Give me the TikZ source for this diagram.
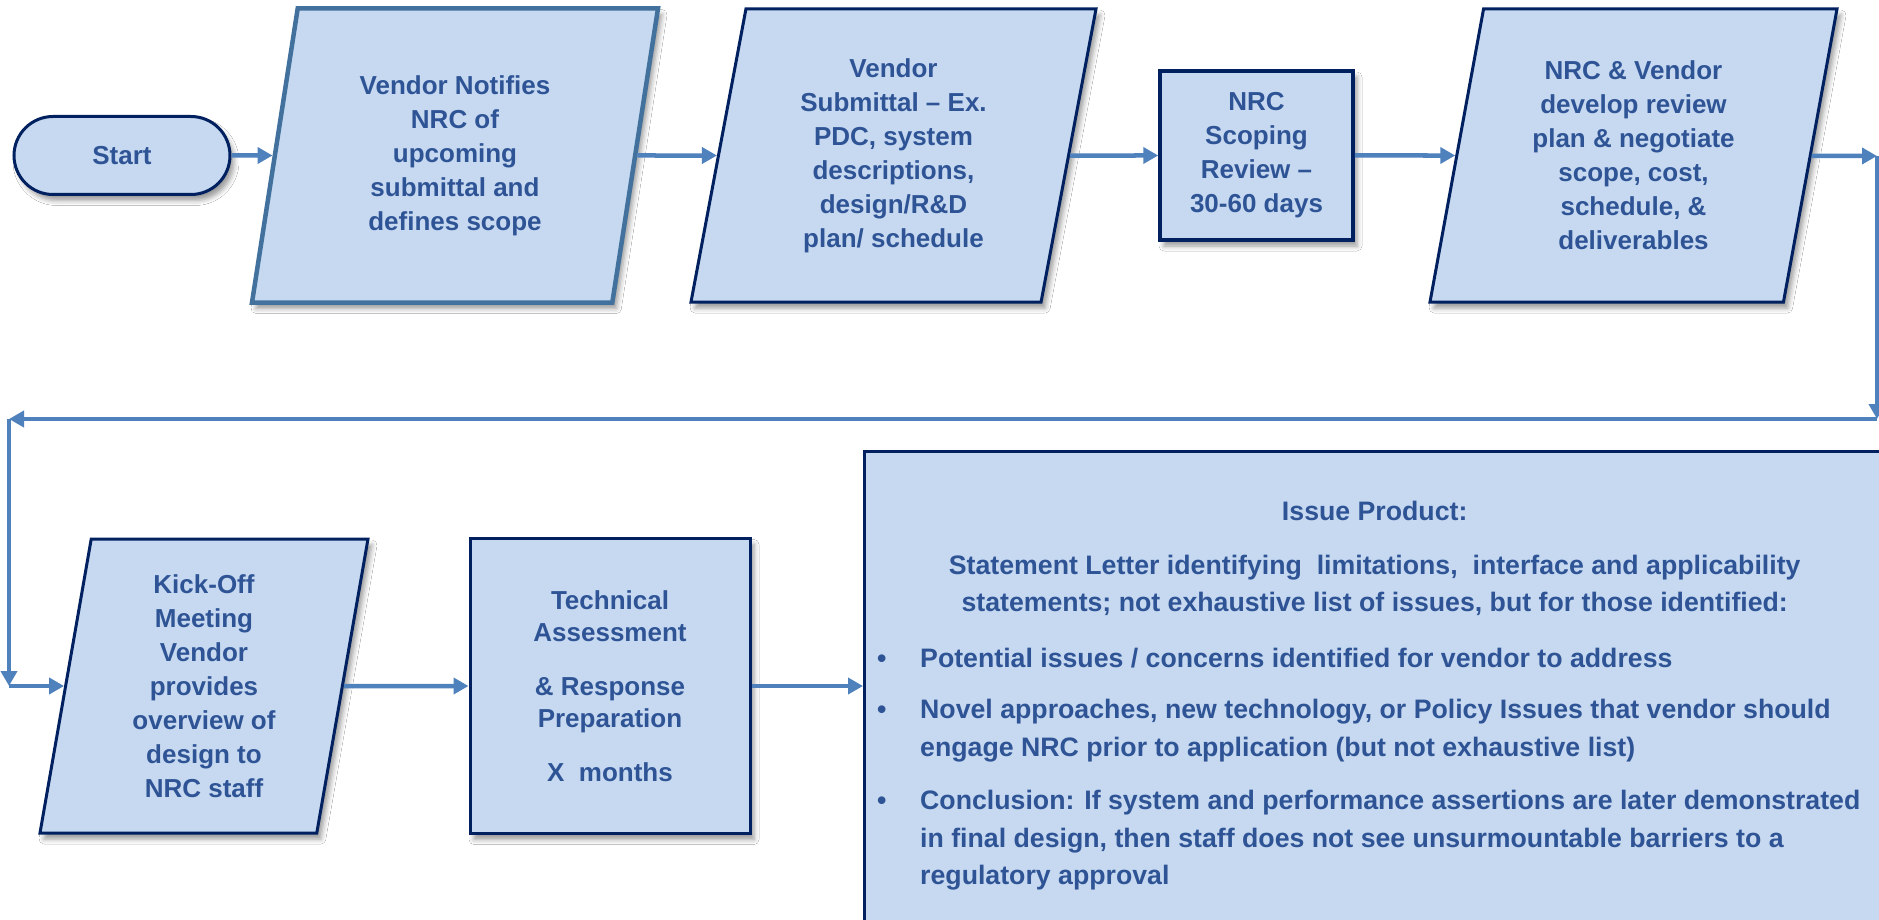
\documentclass[tikz,border=0pt]{standalone}
\usepackage{fontspec}
\setmainfont{Liberation Sans}
\usetikzlibrary{shapes.geometric,shapes.misc,arrows.meta,shadows.blur}
\definecolor{boxfill}{RGB}{198,217,240}
\definecolor{navy}{RGB}{0,32,96}
\definecolor{midblue}{RGB}{65,113,156}
\definecolor{arrowblue}{RGB}{79,129,189}
\definecolor{txt}{RGB}{47,84,150}
\newcommand\bul{\makebox[43pt][l]{\textbullet}}
\begin{document}
\begin{tikzpicture}[x=1pt,y=-1pt,
  softshadow/.style={blur shadow={shadow xshift=4pt,shadow yshift=-6pt,shadow blur radius=5pt,shadow opacity=40}},
  base/.style={fill=boxfill, draw=navy, line width=3pt, text=txt,
    font=\fontsize{26}{34}\selectfont\bfseries, align=center, softshadow, inner sep=4pt},
  para/.style={base, trapezium, trapezium stretches body,
    trapezium left angle=74.8, trapezium right angle=105.2},
  arr/.style={draw=arrowblue, line width=4.5pt, -{Triangle[length=15pt,width=16pt]}}]
\useasboundingbox (0,0) rectangle (1879,920);
\fill[white] (0,0) rectangle (1879,920);

% top row
\node[base, rounded rectangle, minimum width=224, minimum height=78] (start) at (122,155.5) {Start};
\node[para, draw=midblue, line width=4.5pt, minimum width=406, minimum height=294] (p1) at (455,155.5)
  {Vendor Notifies\\NRC of\\upcoming\\submittal and\\defines scope};
\node[para, minimum width=405, minimum height=293] (p2) at (893.5,155.5)
  {Vendor\\Submittal – Ex.\\PDC, system\\descriptions,\\design/R\&D\\plan/ schedule};
\node[base, line width=3.5pt, minimum width=193, minimum height=169] (scope) at (1256.5,155.5)
  {NRC\\Scoping\\Review –\\30-60 days};
\node[para, minimum width=407, minimum height=293] (p3) at (1633.5,155.5)
  {NRC \& Vendor\\develop review\\plan \& negotiate\\scope, cost,\\schedule, \&\\deliverables};

% bottom row
\node[para, trapezium left angle=77.5, trapezium right angle=102.5, minimum width=328, minimum height=294] (kick) at (204,686)
  {Kick-Off\\Meeting\\Vendor\\provides\\overview of\\design to\\NRC staff};
\node[base, minimum width=280, minimum height=295, font=\fontsize{26}{32}\selectfont\bfseries] (tech) at (610,686)
  {Technical\\Assessment\\[22pt]\& Response\\Preparation\\[22pt]X\ \ months};

\begin{scope}
\clip (0,0) rectangle (1879,920);
\node[base, anchor=north west, minimum width=1030, minimum height=490] (issue) at (863,450) {};
\end{scope}
\node[anchor=north west, inner sep=0pt, text=txt, font=\fontsize{26.7}{37.5}\selectfont\bfseries] (issuetext) at (877,501)
{\begin{minipage}[t]{995pt}
\centering Issue Product:\par\vspace{16pt}
Statement Letter identifying\ \ limitations,\ \ interface and applicability\\
statements; not exhaustive list of issues, but for those identified:\par\vspace{18pt}
\raggedright
\bul Potential issues / concerns identified for vendor to address\par\vspace{14pt}
\bul Novel approaches, new technology, or Policy Issues that vendor should\\
\hspace*{43pt}engage NRC prior to application (but not exhaustive list)\par\vspace{16pt}
\bul Conclusion: If system and performance assertions are later demonstrated\\
\hspace*{43pt}in final design, then staff does not see unsurmountable barriers to a\\
\hspace*{43pt}regulatory approval
\end{minipage}};

% connectors
\coordinate (c1) at (1877,156);
\coordinate (c2) at (1877,419);
\coordinate (c3) at (9,419);
\coordinate (c4) at (9,686);
\draw[arr] (start) -- (p1);
\draw[arr] (p1) -- (p2);
\draw[arr] (p2) -- (scope);
\draw[arr] (scope) -- (p3);
\draw[arr] (p3) -- (c1);
\draw[arr] (c1) -- (c2);
\draw[arr] (c2) -- (c3);
\draw[arr] (c3) -- (c4);
\draw[arr] (c4) -- (kick);
\draw[arr] (kick) -- (tech);
\draw[arr] (tech.east) -- (tech.east -| issue.west);
\end{tikzpicture}
\end{document}
